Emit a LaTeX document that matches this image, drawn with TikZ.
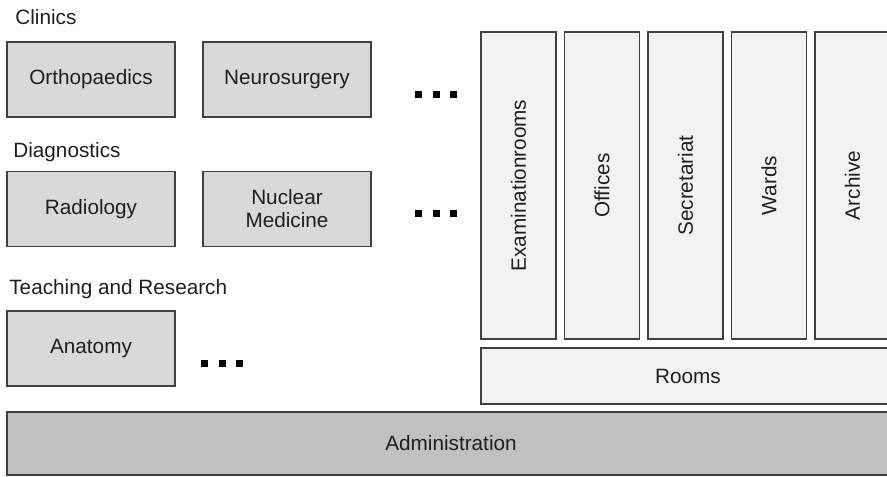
\documentclass[tikz,border=0pt]{standalone}
\usepackage{fontspec}
\setmainfont{Liberation Sans}
\usepackage{tikz}
\definecolor{unitgray}{RGB}{217,217,217}
\definecolor{roomgray}{RGB}{242,242,242}
\definecolor{admgray}{RGB}{192,192,192}
\definecolor{edge}{RGB}{64,64,64}

\begin{document}
\begin{tikzpicture}[x=0.02cm,y=-0.02cm,
  every node/.style={font=\fontsize{11.8}{13}\selectfont, text=black!88},
  unit/.style={draw=edge, line width=0.9pt, fill=unitgray, minimum width=3.36cm, minimum height=1.5cm, align=center},
  room/.style={draw=edge, line width=0.9pt, fill=roomgray, rotate=90, minimum width=6.14cm, minimum height=1.5cm},
  head/.style={anchor=west, inner sep=0pt}]
\useasboundingbox (0,0) rectangle (887,477);
\clip (0,0) rectangle (887,477);

% departments
\node[head] (clin) at (15,17) {Clinics};
\node[unit] (ortho) at (91,79.5) {Orthopaedics};
\node[unit] (neuro) at (287,79.5) {Neurosurgery};

\node[head] (diag) at (13,152) {Diagnostics};
\node[unit] (radio) at (91,209) {Radiology};
\node[unit] (nucl) at (287,209) {Nuclear\\Medicine};

\node[head] (teach) at (9,289) {Teaching and Research};
\node[unit] (anat) at (91,348.5) {Anatomy};

% the "..." marks
\foreach \x/\y in {415/94, 415/213, 201/363}
  \foreach \d in {0,1,2}
    \fill (\x+17.5*\d,\y-3.5) rectangle ++(7,7);

% rooms
\foreach \n/\t [count=\i from 0] in {exam/Examinationrooms, off/Offices, sec/Secretariat, ward/Wards, arch/Archive}
  \node[room] (\n) at (518.5+83.5*\i,185.5) {\t};
\node[draw=edge, line width=0.9pt, fill=roomgray, minimum width=8.28cm, minimum height=1.12cm] (rooms) at (688,376) {Rooms};

% administration
\node[draw=edge, line width=0.9pt, fill=admgray, minimum width=17.76cm, minimum height=1.26cm] (adm) at (451,443.5) {Administration};

\end{tikzpicture}
\end{document}
